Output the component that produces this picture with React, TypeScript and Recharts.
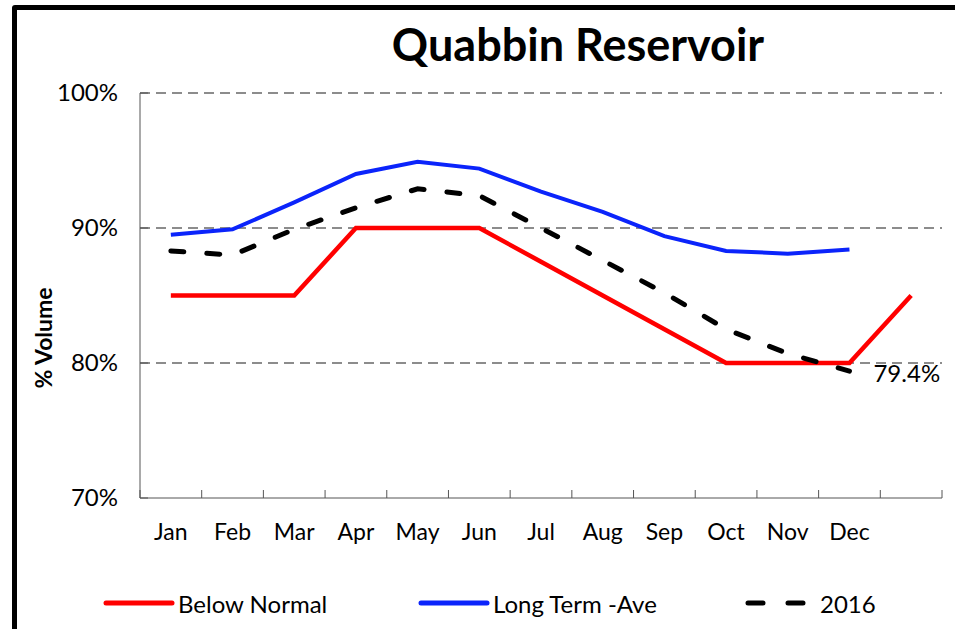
import { LineChart, Line, XAxis, YAxis, CartesianGrid } from 'recharts'

const months = ['Jan', 'Feb', 'Mar', 'Apr', 'May', 'Jun', 'Jul', 'Aug', 'Sep', 'Oct', 'Nov', 'Dec', '']
const belowNormal = [85, 85, 85, 90, 90, 90, 87.5, 85, 82.5, 80, 80, 80, 85]
const longTermAve = [89.5, 89.9, 91.9, 94.0, 94.9, 94.4, 92.7, 91.2, 89.4, 88.3, 88.1, 88.4, null]
const y2016 = [88.3, 88.0, 89.9, 91.5, 92.9, 92.4, 90.0, 87.6, 85.2, 82.5, 80.7, 79.4, null]
const yTicks = [70, 80, 90, 100]
const gridValues = [80, 90, 100]

const RED = '#FF0000'
const BLUE = '#0B24FB'
const FONT = 'Lato, "Open Sans", sans-serif'

const data = months.map((m, i) => ({
  month: m,
  below: belowNormal[i],
  ave: longTermAve[i],
  cur: y2016[i],
}))

const lastIdx = y2016.reduce((acc, v, i) => (v != null ? i : acc), 0)

function MonthTick(props: any) {
  const { x, y, payload, index } = props
  const half = payload.offset || 0
  return (
    <g>
      <line x1={x - half} x2={x - half} y1={y} y2={y - 8} stroke="#555" strokeWidth={1} />
      {index === months.length - 1 && (
        <line x1={x + half} x2={x + half} y1={y} y2={y - 8} stroke="#555" strokeWidth={1} />
      )}
      <text x={x} y={y + 42} textAnchor="middle" fontSize={23} fill="#000" fontFamily={FONT}>
        {payload.value}
      </text>
    </g>
  )
}

function PctTick(props: any) {
  const { x, y, payload } = props
  return (
    <g>
      <line x1={x} x2={x + 8} y1={y} y2={y} stroke="#555" strokeWidth={1} />
      <text x={x - 22} y={y + 8} textAnchor="end" fontSize={24} fill="#000" fontFamily={FONT}>
        {payload.value}%
      </text>
    </g>
  )
}

function EndLabel(props: any) {
  const { x, y, index, value } = props
  if (index !== lastIdx) return <g />
  return (
    <text x={x + 24} y={y + 11} fontSize={24} fill="#000" fontFamily={FONT}>
      {value}%
    </text>
  )
}

function LegendItem({ color, dash, label, left }: { color: string; dash?: string; label: string; left: number }) {
  return (
    <div style={{ position: 'absolute', left, top: 588, display: 'flex', alignItems: 'center' }}>
      <svg width={76} height={30}>
        <line x1={6} x2={72} y1={15} y2={15} stroke={color} strokeWidth={5} strokeLinecap="round" strokeDasharray={dash} />
      </svg>
      <span style={{ fontFamily: FONT, fontSize: 24, marginLeft: 2, color: '#000' }}>{label}</span>
    </div>
  )
}

export default function App() {
  return (
    <div style={{ position: 'absolute', left: 0, top: 0, width: 955, height: 629, overflow: 'hidden', background: '#fff' }}>
      <div
        style={{
          position: 'absolute',
          left: 12,
          top: 5,
          width: 1000,
          height: 700,
          border: '5px solid #000',
          borderRadius: 3,
        }}
      />
      <div
        style={{
          position: 'absolute',
          left: 0,
          width: 1156,
          top: 17,
          textAlign: 'center',
          fontFamily: FONT,
          fontWeight: 700,
          fontSize: 45,
          color: '#000',
        }}
      >
        Quabbin Reservoir
      </div>
      <div
        style={{
          position: 'absolute',
          left: 43,
          top: 338,
          transform: 'translate(-50%, -50%) rotate(-90deg)',
          fontFamily: FONT,
          fontWeight: 700,
          fontSize: 23,
          whiteSpace: 'nowrap',
          color: '#000',
        }}
      >
        % Volume
      </div>
      <div style={{ position: 'absolute', left: 0, top: 0 }}>
        <LineChart width={955} height={629} data={data} margin={{ top: 93, right: 13, bottom: 0, left: 0 }}>
          <CartesianGrid
            vertical={false}
            horizontalValues={gridValues}
            stroke="#8c8c8c"
            strokeWidth={2}
            strokeDasharray="10 6"
          />
          <XAxis
            dataKey="month"
            scale="band"
            height={131}
            interval={0}
            tickSize={0}
            tickMargin={0}
            tickLine={false}
            axisLine={{ stroke: '#555', strokeWidth: 1 }}
            tick={<MonthTick />}
          />
          <YAxis
            width={140}
            domain={[70, 100]}
            ticks={yTicks}
            interval={0}
            tickSize={0}
            tickMargin={0}
            tickLine={false}
            axisLine={{ stroke: '#555', strokeWidth: 1 }}
            tick={<PctTick />}
          />
          <Line dataKey="below" stroke={RED} strokeWidth={4.5} dot={false} isAnimationActive={false} />
          <Line dataKey="ave" stroke={BLUE} strokeWidth={4} dot={false} isAnimationActive={false} />
          <Line
            dataKey="cur"
            stroke="#000"
            strokeWidth={5}
            strokeDasharray="13 23"
            strokeLinecap="round"
            dot={false}
            isAnimationActive={false}
            label={<EndLabel />}
          />
        </LineChart>
      </div>
      <LegendItem color={RED} label="Below Normal" left={100} />
      <LegendItem color={BLUE} label="Long Term -Ave" left={415} />
      <LegendItem color="#000" dash="15 25" label="2016" left={742} />
    </div>
  )
}
